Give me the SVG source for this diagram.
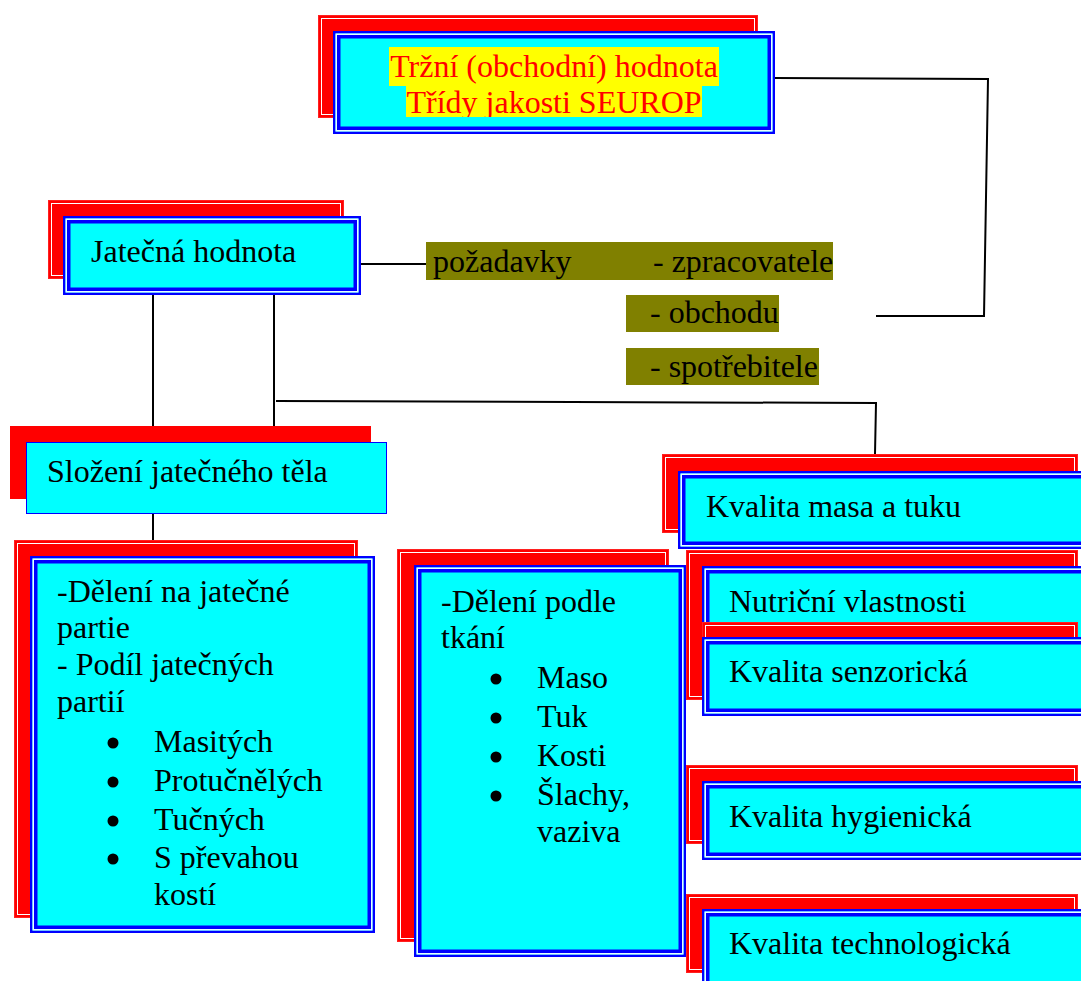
<svg xmlns="http://www.w3.org/2000/svg" width="1081" height="981" viewBox="0 0 1081 981">
<style>
.ro{fill:#ff0000;stroke:#ff2020;stroke-width:1}
.rw{fill:none;stroke:#ffffff;stroke-width:1}
.bo{fill:#00ffff;stroke:#0000ff;stroke-width:2.5}
.bg{fill:none;stroke:#e8ffff;stroke-width:1.5}
.bi{fill:none;stroke:#0000ff;stroke-width:3.5}
.t{font-family:'Liberation Serif','DejaVu Serif',serif;font-size:32px;fill:#000}
.tr{font-family:'Liberation Serif','DejaVu Serif',serif;font-size:32px;fill:#ff0000;text-anchor:middle}
.ol{fill:#808000}
.c{stroke:#000;stroke-width:2;fill:none}
</style>
<defs>
<clipPath id="clip2"><rect x="300" y="86" width="500" height="31"/></clipPath>
</defs>
<rect width="1081" height="981" fill="#ffffff"/>

<g id="connectors">
<line class="c" x1="361" y1="264" x2="427" y2="264"/>
<polyline class="c" points="775,78 988,79 984,316 876,316"/>
<line class="c" x1="153" y1="295" x2="153" y2="426"/>
<line class="c" x1="274" y1="295" x2="274" y2="426"/>
<polyline class="c" points="276,401 876,403 875,454"/>
<line class="c" x1="153" y1="514" x2="153" y2="540"/>
</g>

<g id="node-trzni">
<rect class="ro" x="318.5" y="15.5" width="439" height="102"/>
<rect class="rw" x="321.5" y="18.5" width="433" height="96"/>
<rect class="bo" x="334.25" y="32.25" width="439.5" height="100.5"/>
<rect class="bg" x="336.25" y="34.25" width="435.5" height="96.5"/>
<rect class="bi" x="338.75" y="36.75" width="430.5" height="91.5"/>
<rect fill="#ffff00" x="389" y="47" width="330" height="39"/>
<rect fill="#ffff00" x="406" y="86" width="296" height="31"/>
<text class="tr" x="554" y="77">Tržní (obchodní) hodnota</text>
<text class="tr" x="554" y="113" clip-path="url(#clip2)">Třídy jakosti SEUROP</text>
</g>

<g id="node-jatecna">
<rect class="ro" x="48.5" y="200.5" width="295" height="78"/>
<rect class="rw" x="51.5" y="203.5" width="289" height="72"/>
<rect class="bo" x="64.25" y="217.25" width="295.5" height="76.5"/>
<rect class="bg" x="66.25" y="219.25" width="291.5" height="72.5"/>
<rect class="bi" x="68.75" y="221.75" width="286.5" height="67.5"/>
<text class="t" x="91" y="262">Jatečná hodnota</text>
</g>

<g id="node-pozadavky">
<rect class="ol" x="426" y="242" width="407" height="38"/>
<rect class="ol" x="626" y="295" width="153" height="37"/>
<rect class="ol" x="626" y="348" width="193" height="37"/>
<text class="t" x="433" y="272">požadavky</text>
<text class="t" x="653" y="272">- zpracovatele</text>
<text class="t" x="650" y="323">- obchodu</text>
<text class="t" x="650" y="377">- spotřebitele</text>
</g>

<g id="node-slozeni">
<rect fill="#ff0000" x="10" y="426" width="361" height="73"/>
<rect fill="#00ffff" stroke="#0000ff" stroke-width="1" x="26.5" y="442.5" width="360" height="71"/>
<text class="t" x="47" y="482">Složení jatečného těla</text>
</g>

<g id="node-partie">
<rect class="ro" x="14.5" y="540.5" width="343" height="377"/>
<rect class="rw" x="17.5" y="543.5" width="337" height="371"/>
<rect class="bo" x="31.25" y="557.25" width="342.5" height="374.5"/>
<rect class="bg" x="33.25" y="559.25" width="338.5" height="370.5"/>
<rect class="bi" x="35.75" y="561.75" width="333.5" height="365.5"/>
<text class="t" x="57" y="602">-Dělení na jatečné</text>
<text class="t" x="57" y="638">partie</text>
<text class="t" x="57" y="675">- Podíl jatečných</text>
<text class="t" x="57" y="712">partií</text>
<circle cx="113" cy="743" r="5.5"/>
<circle cx="113" cy="782" r="5.5"/>
<circle cx="113" cy="821" r="5.5"/>
<circle cx="113" cy="859" r="5.5"/>
<text class="t" x="154" y="752">Masitých</text>
<text class="t" x="154" y="791">Protučnělých</text>
<text class="t" x="154" y="830">Tučných</text>
<text class="t" x="154" y="868">S převahou</text>
<text class="t" x="154" y="905">kostí</text>
</g>

<g id="node-tkani">
<rect class="ro" x="397.5" y="549.5" width="271" height="392"/>
<rect class="rw" x="400.5" y="552.5" width="265" height="386"/>
<rect class="bo" x="415.25" y="566.25" width="269.5" height="389.5"/>
<rect class="bg" x="417.25" y="568.25" width="265.5" height="385.5"/>
<rect class="bi" x="419.75" y="570.75" width="260.5" height="380.5"/>
<text class="t" x="441" y="612">-Dělení podle</text>
<text class="t" x="441" y="648">tkání</text>
<circle cx="496" cy="679" r="5.5"/>
<circle cx="496" cy="718" r="5.5"/>
<circle cx="496" cy="757" r="5.5"/>
<circle cx="496" cy="796" r="5.5"/>
<text class="t" x="537" y="688">Maso</text>
<text class="t" x="537" y="727">Tuk</text>
<text class="t" x="537" y="766">Kosti</text>
<text class="t" x="537" y="805">Šlachy,</text>
<text class="t" x="537" y="842">vaziva</text>
</g>

<g id="node-masa">
<rect class="ro" x="662.5" y="454.5" width="415" height="78"/>
<rect class="rw" x="665.5" y="457.5" width="409" height="72"/>
<rect class="bo" x="679.25" y="472.25" width="420" height="75.5"/>
<rect class="bg" x="681.25" y="474.25" width="416" height="71.5"/>
<rect class="bi" x="683.75" y="476.75" width="411" height="66.5"/>
<text class="t" x="706" y="517">Kvalita masa a tuku</text>
</g>

<g id="node-nutricni">
<rect class="ro" x="686.5" y="550.5" width="391" height="149"/>
<rect class="rw" x="689.5" y="553.5" width="385" height="143"/>
<rect class="bo" x="703.25" y="567.25" width="400" height="80"/>
<rect class="bg" x="705.25" y="569.25" width="396" height="76"/>
<rect class="bi" x="707.75" y="571.75" width="391" height="71"/>
<text class="t" x="729" y="612">Nutriční vlastnosti</text>
</g>

<g id="node-senzoricka">
<rect class="ro" x="702.5" y="622.5" width="375" height="78"/>
<rect class="rw" x="705.5" y="625.5" width="369" height="72"/>
<rect class="bo" x="703.25" y="638.25" width="400" height="76.5"/>
<rect class="bg" x="705.25" y="640.25" width="396" height="72.5"/>
<rect class="bi" x="707.75" y="642.75" width="391" height="67.5"/>
<text class="t" x="729" y="682">Kvalita senzorická</text>
</g>

<g id="node-hygienicka">
<rect class="ro" x="686.5" y="765.5" width="391" height="78"/>
<rect class="rw" x="689.5" y="768.5" width="385" height="72"/>
<rect class="bo" x="703.25" y="782.25" width="400" height="76.5"/>
<rect class="bg" x="705.25" y="784.25" width="396" height="72.5"/>
<rect class="bi" x="707.75" y="786.75" width="391" height="67.5"/>
<text class="t" x="729" y="827">Kvalita hygienická</text>
</g>

<g id="node-technologicka">
<rect class="ro" x="686.5" y="894.5" width="391" height="78"/>
<rect class="rw" x="689.5" y="897.5" width="385" height="72"/>
<rect class="bo" x="703.25" y="910.25" width="400" height="80"/>
<rect class="bg" x="705.25" y="912.25" width="396" height="80"/>
<rect class="bi" x="707.75" y="914.75" width="391" height="80"/>
<text class="t" x="729" y="954">Kvalita technologická</text>
</g>
</svg>
